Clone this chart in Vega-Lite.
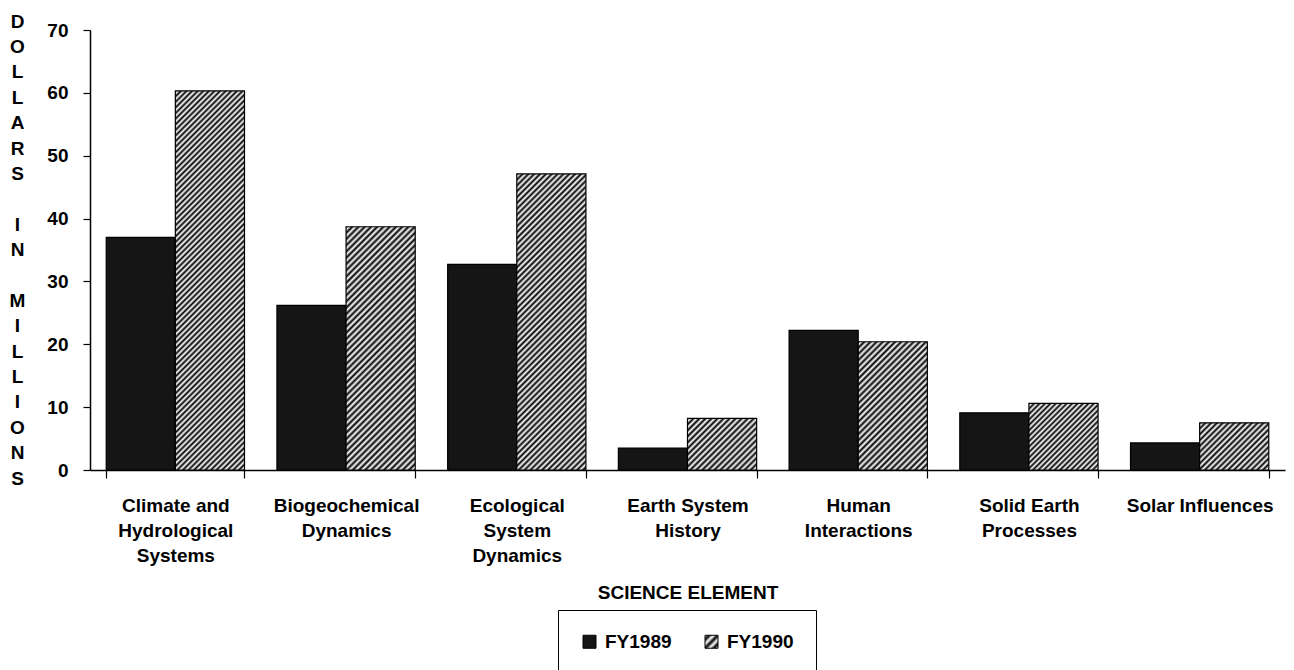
{
"$schema": "https://vega.github.io/schema/vega-lite/v6.json",
"width": 1195,
"height": 440,
"autosize": {"type": "none"},
"padding": {"left": 90, "top": 30, "right": 9, "bottom": 200},
"background": "white",
"config": {"view": {"stroke": null}, "font": "Liberation Sans"},
"params": [{"name": "legendHatch", "value": {"gradient": "linear", "x1": 0, "y1": 0, "x2": 1, "y2": 1, "stops": [
{"offset":0,"color":"#fff"},{"offset":0.1667,"color":"#000"},{"offset":0.3333,"color":"#fff"},{"offset":0.5,"color":"#000"},{"offset":0.6667,"color":"#fff"},{"offset":0.8333,"color":"#000"},{"offset":1,"color":"#fff"}]}}],
"data": {"values": [
{"element": "Climate and Hydrological Systems", "year": "FY1989", "dollars": 37.0},
{"element": "Climate and Hydrological Systems", "year": "FY1990", "dollars": 60.3},
{"element": "Biogeochemical Dynamics", "year": "FY1989", "dollars": 26.2},
{"element": "Biogeochemical Dynamics", "year": "FY1990", "dollars": 38.7},
{"element": "Ecological System Dynamics", "year": "FY1989", "dollars": 32.7},
{"element": "Ecological System Dynamics", "year": "FY1990", "dollars": 47.1},
{"element": "Earth System History", "year": "FY1989", "dollars": 3.5},
{"element": "Earth System History", "year": "FY1990", "dollars": 8.2},
{"element": "Human Interactions", "year": "FY1989", "dollars": 22.2},
{"element": "Human Interactions", "year": "FY1990", "dollars": 20.4},
{"element": "Solid Earth Processes", "year": "FY1989", "dollars": 9.1},
{"element": "Solid Earth Processes", "year": "FY1990", "dollars": 10.6},
{"element": "Solar Influences", "year": "FY1989", "dollars": 4.3},
{"element": "Solar Influences", "year": "FY1990", "dollars": 7.5}
]},
"mark": {"type": "bar", "stroke": "black", "strokeWidth": 1.2},
"encoding": {
"x": {"field": "element", "type": "nominal", "sort": null,
 "scale": {"paddingInner": 0.19, "paddingOuter": 0.095},
 "axis": {"title": "SCIENCE ELEMENT", "labelAngle": 0, "tickBand": "extent", "tickSize": 8, "tickColor": "black", "tickWidth": 1.2,
  "domainColor": "black", "domainWidth": 1.5,
  "labelFont": "Liberation Sans", "labelFontSize": 19, "labelFontWeight": "bold", "labelColor": "black",
  "labelLineHeight": 25, "labelPadding": 18, "labelBaseline": "top", "labelLimit": 400,
  "labelExpr": "datum.label === 'Climate and Hydrological Systems' ? ['Climate and','Hydrological','Systems'] : datum.label === 'Biogeochemical Dynamics' ? ['Biogeochemical','Dynamics'] : datum.label === 'Ecological System Dynamics' ? ['Ecological','System','Dynamics'] : datum.label === 'Earth System History' ? ['Earth System','History'] : datum.label === 'Human Interactions' ? ['Human','Interactions'] : datum.label === 'Solid Earth Processes' ? ['Solid Earth','Processes'] : datum.label",
  "titleFont": "Liberation Sans", "titleFontSize": 19, "titleFontWeight": "bold", "titleColor": "black",
  "titleY": 128, "titleBaseline": "alphabetic"}},
"xOffset": {"field": "year", "type": "nominal", "scale": {"paddingInner": 0, "paddingOuter": 0}},
"y": {"field": "dollars", "type": "quantitative", "scale": {"domain": [0, 70]},
 "axis": {"values": [0, 10, 20, 30, 40, 50, 60, 70], "grid": false, "tickSize": 7, "tickColor": "black", "tickWidth": 1.2,
  "domainColor": "black", "domainWidth": 1.5,
  "labelFont": "Liberation Sans", "labelFontSize": 19, "labelFontWeight": "bold", "labelColor": "black", "labelPadding": 15,
  "title": ["D","O","L","L","A","R","S","\u200b","I","N","\u200b","M","I","L","L","I","O","N","S"],
  "titleAngle": 0, "titleAlign": "center", "titleBaseline": "alphabetic", "titleX": -73, "titleY": -3, "titleLineHeight": 25.4,
  "titleFont": "Liberation Sans", "titleFontSize": 19, "titleFontWeight": "bold", "titleColor": "black"}},
"fill": {
 "condition": [
  {"test": "datum.year === 'FY1990' && datum.element === 'Climate and Hydrological Systems'", "value": {"gradient": "linear", "x1": 0, "y1": 0, "x2": 0.2088, "y2": 1.1443, "stops": [
{"offset":0,"color":"#000"},{"offset":0.00625,"color":"#fff"},{"offset":0.0125,"color":"#000"},{"offset":0.01875,"color":"#fff"},{"offset":0.025,"color":"#000"},{"offset":0.03125,"color":"#fff"},{"offset":0.0375,"color":"#000"},{"offset":0.04375,"color":"#fff"},
{"offset":0.05,"color":"#000"},{"offset":0.05625,"color":"#fff"},{"offset":0.0625,"color":"#000"},{"offset":0.06875,"color":"#fff"},{"offset":0.075,"color":"#000"},{"offset":0.08125,"color":"#fff"},{"offset":0.0875,"color":"#000"},{"offset":0.09375,"color":"#fff"},
{"offset":0.1,"color":"#000"},{"offset":0.10625,"color":"#fff"},{"offset":0.1125,"color":"#000"},{"offset":0.11875,"color":"#fff"},{"offset":0.125,"color":"#000"},{"offset":0.13125,"color":"#fff"},{"offset":0.1375,"color":"#000"},{"offset":0.14375,"color":"#fff"},
{"offset":0.15,"color":"#000"},{"offset":0.15625,"color":"#fff"},{"offset":0.1625,"color":"#000"},{"offset":0.16875,"color":"#fff"},{"offset":0.175,"color":"#000"},{"offset":0.18125,"color":"#fff"},{"offset":0.1875,"color":"#000"},{"offset":0.19375,"color":"#fff"},
{"offset":0.2,"color":"#000"},{"offset":0.20625,"color":"#fff"},{"offset":0.2125,"color":"#000"},{"offset":0.21875,"color":"#fff"},{"offset":0.225,"color":"#000"},{"offset":0.23125,"color":"#fff"},{"offset":0.2375,"color":"#000"},{"offset":0.24375,"color":"#fff"},
{"offset":0.25,"color":"#000"},{"offset":0.25625,"color":"#fff"},{"offset":0.2625,"color":"#000"},{"offset":0.26875,"color":"#fff"},{"offset":0.275,"color":"#000"},{"offset":0.28125,"color":"#fff"},{"offset":0.2875,"color":"#000"},{"offset":0.29375,"color":"#fff"},
{"offset":0.3,"color":"#000"},{"offset":0.30625,"color":"#fff"},{"offset":0.3125,"color":"#000"},{"offset":0.31875,"color":"#fff"},{"offset":0.325,"color":"#000"},{"offset":0.33125,"color":"#fff"},{"offset":0.3375,"color":"#000"},{"offset":0.34375,"color":"#fff"},
{"offset":0.35,"color":"#000"},{"offset":0.35625,"color":"#fff"},{"offset":0.3625,"color":"#000"},{"offset":0.36875,"color":"#fff"},{"offset":0.375,"color":"#000"},{"offset":0.38125,"color":"#fff"},{"offset":0.3875,"color":"#000"},{"offset":0.39375,"color":"#fff"},
{"offset":0.4,"color":"#000"},{"offset":0.40625,"color":"#fff"},{"offset":0.4125,"color":"#000"},{"offset":0.41875,"color":"#fff"},{"offset":0.425,"color":"#000"},{"offset":0.43125,"color":"#fff"},{"offset":0.4375,"color":"#000"},{"offset":0.44375,"color":"#fff"},
{"offset":0.45,"color":"#000"},{"offset":0.45625,"color":"#fff"},{"offset":0.4625,"color":"#000"},{"offset":0.46875,"color":"#fff"},{"offset":0.475,"color":"#000"},{"offset":0.48125,"color":"#fff"},{"offset":0.4875,"color":"#000"},{"offset":0.49375,"color":"#fff"},
{"offset":0.5,"color":"#000"},{"offset":0.50625,"color":"#fff"},{"offset":0.5125,"color":"#000"},{"offset":0.51875,"color":"#fff"},{"offset":0.525,"color":"#000"},{"offset":0.53125,"color":"#fff"},{"offset":0.5375,"color":"#000"},{"offset":0.54375,"color":"#fff"},
{"offset":0.55,"color":"#000"},{"offset":0.55625,"color":"#fff"},{"offset":0.5625,"color":"#000"},{"offset":0.56875,"color":"#fff"},{"offset":0.575,"color":"#000"},{"offset":0.58125,"color":"#fff"},{"offset":0.5875,"color":"#000"},{"offset":0.59375,"color":"#fff"},
{"offset":0.6,"color":"#000"},{"offset":0.60625,"color":"#fff"},{"offset":0.6125,"color":"#000"},{"offset":0.61875,"color":"#fff"},{"offset":0.625,"color":"#000"},{"offset":0.63125,"color":"#fff"},{"offset":0.6375,"color":"#000"},{"offset":0.64375,"color":"#fff"},
{"offset":0.65,"color":"#000"},{"offset":0.65625,"color":"#fff"},{"offset":0.6625,"color":"#000"},{"offset":0.66875,"color":"#fff"},{"offset":0.675,"color":"#000"},{"offset":0.68125,"color":"#fff"},{"offset":0.6875,"color":"#000"},{"offset":0.69375,"color":"#fff"},
{"offset":0.7,"color":"#000"},{"offset":0.70625,"color":"#fff"},{"offset":0.7125,"color":"#000"},{"offset":0.71875,"color":"#fff"},{"offset":0.725,"color":"#000"},{"offset":0.73125,"color":"#fff"},{"offset":0.7375,"color":"#000"},{"offset":0.74375,"color":"#fff"},
{"offset":0.75,"color":"#000"},{"offset":0.75625,"color":"#fff"},{"offset":0.7625,"color":"#000"},{"offset":0.76875,"color":"#fff"},{"offset":0.775,"color":"#000"},{"offset":0.78125,"color":"#fff"},{"offset":0.7875,"color":"#000"},{"offset":0.79375,"color":"#fff"},
{"offset":0.8,"color":"#000"},{"offset":0.80625,"color":"#fff"},{"offset":0.8125,"color":"#000"},{"offset":0.81875,"color":"#fff"},{"offset":0.825,"color":"#000"},{"offset":0.83125,"color":"#fff"},{"offset":0.8375,"color":"#000"},{"offset":0.84375,"color":"#fff"},
{"offset":0.85,"color":"#000"},{"offset":0.85625,"color":"#fff"},{"offset":0.8625,"color":"#000"},{"offset":0.86875,"color":"#fff"},{"offset":0.875,"color":"#000"},{"offset":0.88125,"color":"#fff"},{"offset":0.8875,"color":"#000"},{"offset":0.89375,"color":"#fff"},
{"offset":0.9,"color":"#000"},{"offset":0.90625,"color":"#fff"},{"offset":0.9125,"color":"#000"},{"offset":0.91875,"color":"#fff"},{"offset":0.925,"color":"#000"},{"offset":0.93125,"color":"#fff"},{"offset":0.9375,"color":"#000"},{"offset":0.94375,"color":"#fff"},
{"offset":0.95,"color":"#000"},{"offset":0.95625,"color":"#fff"},{"offset":0.9625,"color":"#000"},{"offset":0.96875,"color":"#fff"},{"offset":0.975,"color":"#000"},{"offset":0.98125,"color":"#fff"},{"offset":0.9875,"color":"#000"},{"offset":0.99375,"color":"#fff"},
{"offset":1,"color":"#000"}]}},
  {"test": "datum.year === 'FY1990' && datum.element === 'Biogeochemical Dynamics'", "value": {"gradient": "linear", "x1": 0, "y1": 0, "x2": 0.3377, "y2": 1.1882, "stops": [
{"offset":0,"color":"#000"},{"offset":0.01,"color":"#fff"},{"offset":0.02,"color":"#000"},{"offset":0.03,"color":"#fff"},{"offset":0.04,"color":"#000"},{"offset":0.05,"color":"#fff"},{"offset":0.06,"color":"#000"},{"offset":0.07,"color":"#fff"},{"offset":0.08,"color":"#000"},{"offset":0.09,"color":"#fff"},
{"offset":0.1,"color":"#000"},{"offset":0.11,"color":"#fff"},{"offset":0.12,"color":"#000"},{"offset":0.13,"color":"#fff"},{"offset":0.14,"color":"#000"},{"offset":0.15,"color":"#fff"},{"offset":0.16,"color":"#000"},{"offset":0.17,"color":"#fff"},{"offset":0.18,"color":"#000"},{"offset":0.19,"color":"#fff"},
{"offset":0.2,"color":"#000"},{"offset":0.21,"color":"#fff"},{"offset":0.22,"color":"#000"},{"offset":0.23,"color":"#fff"},{"offset":0.24,"color":"#000"},{"offset":0.25,"color":"#fff"},{"offset":0.26,"color":"#000"},{"offset":0.27,"color":"#fff"},{"offset":0.28,"color":"#000"},{"offset":0.29,"color":"#fff"},
{"offset":0.3,"color":"#000"},{"offset":0.31,"color":"#fff"},{"offset":0.32,"color":"#000"},{"offset":0.33,"color":"#fff"},{"offset":0.34,"color":"#000"},{"offset":0.35,"color":"#fff"},{"offset":0.36,"color":"#000"},{"offset":0.37,"color":"#fff"},{"offset":0.38,"color":"#000"},{"offset":0.39,"color":"#fff"},
{"offset":0.4,"color":"#000"},{"offset":0.41,"color":"#fff"},{"offset":0.42,"color":"#000"},{"offset":0.43,"color":"#fff"},{"offset":0.44,"color":"#000"},{"offset":0.45,"color":"#fff"},{"offset":0.46,"color":"#000"},{"offset":0.47,"color":"#fff"},{"offset":0.48,"color":"#000"},{"offset":0.49,"color":"#fff"},
{"offset":0.5,"color":"#000"},{"offset":0.51,"color":"#fff"},{"offset":0.52,"color":"#000"},{"offset":0.53,"color":"#fff"},{"offset":0.54,"color":"#000"},{"offset":0.55,"color":"#fff"},{"offset":0.56,"color":"#000"},{"offset":0.57,"color":"#fff"},{"offset":0.58,"color":"#000"},{"offset":0.59,"color":"#fff"},
{"offset":0.6,"color":"#000"},{"offset":0.61,"color":"#fff"},{"offset":0.62,"color":"#000"},{"offset":0.63,"color":"#fff"},{"offset":0.64,"color":"#000"},{"offset":0.65,"color":"#fff"},{"offset":0.66,"color":"#000"},{"offset":0.67,"color":"#fff"},{"offset":0.68,"color":"#000"},{"offset":0.69,"color":"#fff"},
{"offset":0.7,"color":"#000"},{"offset":0.71,"color":"#fff"},{"offset":0.72,"color":"#000"},{"offset":0.73,"color":"#fff"},{"offset":0.74,"color":"#000"},{"offset":0.75,"color":"#fff"},{"offset":0.76,"color":"#000"},{"offset":0.77,"color":"#fff"},{"offset":0.78,"color":"#000"},{"offset":0.79,"color":"#fff"},
{"offset":0.8,"color":"#000"},{"offset":0.81,"color":"#fff"},{"offset":0.82,"color":"#000"},{"offset":0.83,"color":"#fff"},{"offset":0.84,"color":"#000"},{"offset":0.85,"color":"#fff"},{"offset":0.86,"color":"#000"},{"offset":0.87,"color":"#fff"},{"offset":0.88,"color":"#000"},{"offset":0.89,"color":"#fff"},
{"offset":0.9,"color":"#000"},{"offset":0.91,"color":"#fff"},{"offset":0.92,"color":"#000"},{"offset":0.93,"color":"#fff"},{"offset":0.94,"color":"#000"},{"offset":0.95,"color":"#fff"},{"offset":0.96,"color":"#000"},{"offset":0.97,"color":"#fff"},{"offset":0.98,"color":"#000"},{"offset":0.99,"color":"#fff"},
{"offset":1,"color":"#000"}]}},
  {"test": "datum.year === 'FY1990' && datum.element === 'Ecological System Dynamics'", "value": {"gradient": "linear", "x1": 0, "y1": 0, "x2": 0.2732, "y2": 1.1697, "stops": [
{"offset":0,"color":"#000"},{"offset":0.008,"color":"#fff"},{"offset":0.016,"color":"#000"},{"offset":0.024,"color":"#fff"},{"offset":0.032,"color":"#000"},{"offset":0.04,"color":"#fff"},{"offset":0.048,"color":"#000"},{"offset":0.056,"color":"#fff"},{"offset":0.064,"color":"#000"},{"offset":0.072,"color":"#fff"},{"offset":0.08,"color":"#000"},{"offset":0.088,"color":"#fff"},{"offset":0.096,"color":"#000"},{"offset":0.104,"color":"#fff"},{"offset":0.112,"color":"#000"},{"offset":0.12,"color":"#fff"},{"offset":0.128,"color":"#000"},{"offset":0.136,"color":"#fff"},{"offset":0.144,"color":"#000"},{"offset":0.152,"color":"#fff"},{"offset":0.16,"color":"#000"},{"offset":0.168,"color":"#fff"},{"offset":0.176,"color":"#000"},{"offset":0.184,"color":"#fff"},{"offset":0.192,"color":"#000"},
{"offset":0.2,"color":"#fff"},{"offset":0.208,"color":"#000"},{"offset":0.216,"color":"#fff"},{"offset":0.224,"color":"#000"},{"offset":0.232,"color":"#fff"},{"offset":0.24,"color":"#000"},{"offset":0.248,"color":"#fff"},{"offset":0.256,"color":"#000"},{"offset":0.264,"color":"#fff"},{"offset":0.272,"color":"#000"},{"offset":0.28,"color":"#fff"},{"offset":0.288,"color":"#000"},{"offset":0.296,"color":"#fff"},{"offset":0.304,"color":"#000"},{"offset":0.312,"color":"#fff"},{"offset":0.32,"color":"#000"},{"offset":0.328,"color":"#fff"},{"offset":0.336,"color":"#000"},{"offset":0.344,"color":"#fff"},{"offset":0.352,"color":"#000"},{"offset":0.36,"color":"#fff"},{"offset":0.368,"color":"#000"},{"offset":0.376,"color":"#fff"},{"offset":0.384,"color":"#000"},{"offset":0.392,"color":"#fff"},
{"offset":0.4,"color":"#000"},{"offset":0.408,"color":"#fff"},{"offset":0.416,"color":"#000"},{"offset":0.424,"color":"#fff"},{"offset":0.432,"color":"#000"},{"offset":0.44,"color":"#fff"},{"offset":0.448,"color":"#000"},{"offset":0.456,"color":"#fff"},{"offset":0.464,"color":"#000"},{"offset":0.472,"color":"#fff"},{"offset":0.48,"color":"#000"},{"offset":0.488,"color":"#fff"},{"offset":0.496,"color":"#000"},{"offset":0.504,"color":"#fff"},{"offset":0.512,"color":"#000"},{"offset":0.52,"color":"#fff"},{"offset":0.528,"color":"#000"},{"offset":0.536,"color":"#fff"},{"offset":0.544,"color":"#000"},{"offset":0.552,"color":"#fff"},{"offset":0.56,"color":"#000"},{"offset":0.568,"color":"#fff"},{"offset":0.576,"color":"#000"},{"offset":0.584,"color":"#fff"},{"offset":0.592,"color":"#000"},
{"offset":0.6,"color":"#fff"},{"offset":0.608,"color":"#000"},{"offset":0.616,"color":"#fff"},{"offset":0.624,"color":"#000"},{"offset":0.632,"color":"#fff"},{"offset":0.64,"color":"#000"},{"offset":0.648,"color":"#fff"},{"offset":0.656,"color":"#000"},{"offset":0.664,"color":"#fff"},{"offset":0.672,"color":"#000"},{"offset":0.68,"color":"#fff"},{"offset":0.688,"color":"#000"},{"offset":0.696,"color":"#fff"},{"offset":0.704,"color":"#000"},{"offset":0.712,"color":"#fff"},{"offset":0.72,"color":"#000"},{"offset":0.728,"color":"#fff"},{"offset":0.736,"color":"#000"},{"offset":0.744,"color":"#fff"},{"offset":0.752,"color":"#000"},{"offset":0.76,"color":"#fff"},{"offset":0.768,"color":"#000"},{"offset":0.776,"color":"#fff"},{"offset":0.784,"color":"#000"},{"offset":0.792,"color":"#fff"},
{"offset":0.8,"color":"#000"},{"offset":0.808,"color":"#fff"},{"offset":0.816,"color":"#000"},{"offset":0.824,"color":"#fff"},{"offset":0.832,"color":"#000"},{"offset":0.84,"color":"#fff"},{"offset":0.848,"color":"#000"},{"offset":0.856,"color":"#fff"},{"offset":0.864,"color":"#000"},{"offset":0.872,"color":"#fff"},{"offset":0.88,"color":"#000"},{"offset":0.888,"color":"#fff"},{"offset":0.896,"color":"#000"},{"offset":0.904,"color":"#fff"},{"offset":0.912,"color":"#000"},{"offset":0.92,"color":"#fff"},{"offset":0.928,"color":"#000"},{"offset":0.936,"color":"#fff"},{"offset":0.944,"color":"#000"},{"offset":0.952,"color":"#fff"},{"offset":0.96,"color":"#000"},{"offset":0.968,"color":"#fff"},{"offset":0.976,"color":"#000"},{"offset":0.984,"color":"#fff"},{"offset":0.992,"color":"#000"},
{"offset":1,"color":"#fff"}]}},
  {"test": "datum.year === 'FY1990' && datum.element === 'Earth System History'", "value": {"gradient": "linear", "x1": 0, "y1": 0, "x2": 1.122, "y2": 0.8364, "stops": [
{"offset":0,"color":"#000"},{"offset":0.025,"color":"#fff"},{"offset":0.05,"color":"#000"},{"offset":0.075,"color":"#fff"},{"offset":0.1,"color":"#000"},{"offset":0.125,"color":"#fff"},{"offset":0.15,"color":"#000"},{"offset":0.175,"color":"#fff"},{"offset":0.2,"color":"#000"},{"offset":0.225,"color":"#fff"},{"offset":0.25,"color":"#000"},{"offset":0.275,"color":"#fff"},{"offset":0.3,"color":"#000"},{"offset":0.325,"color":"#fff"},{"offset":0.35,"color":"#000"},{"offset":0.375,"color":"#fff"},{"offset":0.4,"color":"#000"},{"offset":0.425,"color":"#fff"},{"offset":0.45,"color":"#000"},{"offset":0.475,"color":"#fff"},
{"offset":0.5,"color":"#000"},{"offset":0.525,"color":"#fff"},{"offset":0.55,"color":"#000"},{"offset":0.575,"color":"#fff"},{"offset":0.6,"color":"#000"},{"offset":0.625,"color":"#fff"},{"offset":0.65,"color":"#000"},{"offset":0.675,"color":"#fff"},{"offset":0.7,"color":"#000"},{"offset":0.725,"color":"#fff"},{"offset":0.75,"color":"#000"},{"offset":0.775,"color":"#fff"},{"offset":0.8,"color":"#000"},{"offset":0.825,"color":"#fff"},{"offset":0.85,"color":"#000"},{"offset":0.875,"color":"#fff"},{"offset":0.9,"color":"#000"},{"offset":0.925,"color":"#fff"},{"offset":0.95,"color":"#000"},{"offset":0.975,"color":"#fff"},
{"offset":1,"color":"#000"}]}},
  {"test": "datum.year === 'FY1990' && datum.element === 'Human Interactions'", "value": {"gradient": "linear", "x1": 0, "y1": 0, "x2": 0.643, "y2": 1.1925, "stops": [
{"offset":0,"color":"#000"},{"offset":0.015625,"color":"#fff"},{"offset":0.03125,"color":"#000"},{"offset":0.046875,"color":"#fff"},{"offset":0.0625,"color":"#000"},{"offset":0.078125,"color":"#fff"},{"offset":0.09375,"color":"#000"},{"offset":0.109375,"color":"#fff"},{"offset":0.125,"color":"#000"},{"offset":0.140625,"color":"#fff"},{"offset":0.15625,"color":"#000"},{"offset":0.171875,"color":"#fff"},{"offset":0.1875,"color":"#000"},{"offset":0.203125,"color":"#fff"},{"offset":0.21875,"color":"#000"},{"offset":0.234375,"color":"#fff"},
{"offset":0.25,"color":"#000"},{"offset":0.265625,"color":"#fff"},{"offset":0.28125,"color":"#000"},{"offset":0.296875,"color":"#fff"},{"offset":0.3125,"color":"#000"},{"offset":0.328125,"color":"#fff"},{"offset":0.34375,"color":"#000"},{"offset":0.359375,"color":"#fff"},{"offset":0.375,"color":"#000"},{"offset":0.390625,"color":"#fff"},{"offset":0.40625,"color":"#000"},{"offset":0.421875,"color":"#fff"},{"offset":0.4375,"color":"#000"},{"offset":0.453125,"color":"#fff"},{"offset":0.46875,"color":"#000"},{"offset":0.484375,"color":"#fff"},
{"offset":0.5,"color":"#000"},{"offset":0.515625,"color":"#fff"},{"offset":0.53125,"color":"#000"},{"offset":0.546875,"color":"#fff"},{"offset":0.5625,"color":"#000"},{"offset":0.578125,"color":"#fff"},{"offset":0.59375,"color":"#000"},{"offset":0.609375,"color":"#fff"},{"offset":0.625,"color":"#000"},{"offset":0.640625,"color":"#fff"},{"offset":0.65625,"color":"#000"},{"offset":0.671875,"color":"#fff"},{"offset":0.6875,"color":"#000"},{"offset":0.703125,"color":"#fff"},{"offset":0.71875,"color":"#000"},{"offset":0.734375,"color":"#fff"},
{"offset":0.75,"color":"#000"},{"offset":0.765625,"color":"#fff"},{"offset":0.78125,"color":"#000"},{"offset":0.796875,"color":"#fff"},{"offset":0.8125,"color":"#000"},{"offset":0.828125,"color":"#fff"},{"offset":0.84375,"color":"#000"},{"offset":0.859375,"color":"#fff"},{"offset":0.875,"color":"#000"},{"offset":0.890625,"color":"#fff"},{"offset":0.90625,"color":"#000"},{"offset":0.921875,"color":"#fff"},{"offset":0.9375,"color":"#000"},{"offset":0.953125,"color":"#fff"},{"offset":0.96875,"color":"#000"},{"offset":0.984375,"color":"#fff"},
{"offset":1,"color":"#000"}]}},
  {"test": "datum.year === 'FY1990' && datum.element === 'Solid Earth Processes'", "value": {"gradient": "linear", "x1": 0, "y1": 0, "x2": 1.0181, "y2": 0.9812, "stops": [
{"offset":0,"color":"#000"},{"offset":0.02,"color":"#fff"},{"offset":0.04,"color":"#000"},{"offset":0.06,"color":"#fff"},{"offset":0.08,"color":"#000"},{"offset":0.1,"color":"#fff"},{"offset":0.12,"color":"#000"},{"offset":0.14,"color":"#fff"},{"offset":0.16,"color":"#000"},{"offset":0.18,"color":"#fff"},{"offset":0.2,"color":"#000"},{"offset":0.22,"color":"#fff"},{"offset":0.24,"color":"#000"},{"offset":0.26,"color":"#fff"},{"offset":0.28,"color":"#000"},{"offset":0.3,"color":"#fff"},{"offset":0.32,"color":"#000"},{"offset":0.34,"color":"#fff"},{"offset":0.36,"color":"#000"},{"offset":0.38,"color":"#fff"},{"offset":0.4,"color":"#000"},{"offset":0.42,"color":"#fff"},{"offset":0.44,"color":"#000"},{"offset":0.46,"color":"#fff"},{"offset":0.48,"color":"#000"},
{"offset":0.5,"color":"#fff"},{"offset":0.52,"color":"#000"},{"offset":0.54,"color":"#fff"},{"offset":0.56,"color":"#000"},{"offset":0.58,"color":"#fff"},{"offset":0.6,"color":"#000"},{"offset":0.62,"color":"#fff"},{"offset":0.64,"color":"#000"},{"offset":0.66,"color":"#fff"},{"offset":0.68,"color":"#000"},{"offset":0.7,"color":"#fff"},{"offset":0.72,"color":"#000"},{"offset":0.74,"color":"#fff"},{"offset":0.76,"color":"#000"},{"offset":0.78,"color":"#fff"},{"offset":0.8,"color":"#000"},{"offset":0.82,"color":"#fff"},{"offset":0.84,"color":"#000"},{"offset":0.86,"color":"#fff"},{"offset":0.88,"color":"#000"},{"offset":0.9,"color":"#fff"},{"offset":0.92,"color":"#000"},{"offset":0.94,"color":"#fff"},{"offset":0.96,"color":"#000"},{"offset":0.98,"color":"#fff"},
{"offset":1,"color":"#000"}]}},
  {"test": "datum.year === 'FY1990' && datum.element === 'Solar Influences'", "value": {"gradient": "linear", "x1": 0, "y1": 0, "x2": 1.1481, "y2": 0.7828, "stops": [
{"offset":0,"color":"#000"},{"offset":0.025,"color":"#fff"},{"offset":0.05,"color":"#000"},{"offset":0.075,"color":"#fff"},{"offset":0.1,"color":"#000"},{"offset":0.125,"color":"#fff"},{"offset":0.15,"color":"#000"},{"offset":0.175,"color":"#fff"},{"offset":0.2,"color":"#000"},{"offset":0.225,"color":"#fff"},{"offset":0.25,"color":"#000"},{"offset":0.275,"color":"#fff"},{"offset":0.3,"color":"#000"},{"offset":0.325,"color":"#fff"},{"offset":0.35,"color":"#000"},{"offset":0.375,"color":"#fff"},{"offset":0.4,"color":"#000"},{"offset":0.425,"color":"#fff"},{"offset":0.45,"color":"#000"},{"offset":0.475,"color":"#fff"},
{"offset":0.5,"color":"#000"},{"offset":0.525,"color":"#fff"},{"offset":0.55,"color":"#000"},{"offset":0.575,"color":"#fff"},{"offset":0.6,"color":"#000"},{"offset":0.625,"color":"#fff"},{"offset":0.65,"color":"#000"},{"offset":0.675,"color":"#fff"},{"offset":0.7,"color":"#000"},{"offset":0.725,"color":"#fff"},{"offset":0.75,"color":"#000"},{"offset":0.775,"color":"#fff"},{"offset":0.8,"color":"#000"},{"offset":0.825,"color":"#fff"},{"offset":0.85,"color":"#000"},{"offset":0.875,"color":"#fff"},{"offset":0.9,"color":"#000"},{"offset":0.925,"color":"#fff"},{"offset":0.95,"color":"#000"},{"offset":0.975,"color":"#fff"},
{"offset":1,"color":"#000"}]}}
 ],
 "field": "year", "type": "nominal",
 "scale": {"domain": ["FY1989", "FY1990"], "range": ["#151515", {"expr": "legendHatch"}]},
 "legend": {"orient": "none", "legendX": 468, "legendY": 580, "direction": "horizontal", "title": null,
  "strokeColor": "black", "padding": 22, "columnPadding": 30, "labelOffset": 6,
  "labelFont": "Liberation Sans", "labelFontSize": 19, "labelFontWeight": "bold", "labelColor": "black",
  "symbolType": "square", "symbolSize": 169, "symbolStrokeColor": "black", "symbolStrokeWidth": 1, "symbolOpacity": 1}
}
}
}
